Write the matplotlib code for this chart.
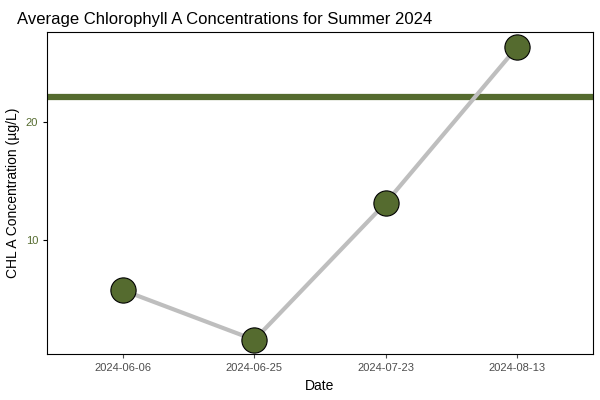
import matplotlib.pyplot as plt

plt.rcParams["font.family"] = ["Liberation Sans", "DejaVu Sans"]

dates = ["2024-06-06", "2024-06-25", "2024-07-23", "2024-08-13"]
chl_a = [5.7, 1.5, 13.1, 26.3]
threshold = 22.1

olive = "#556B2F"

fig = plt.figure(figsize=(6, 4), dpi=100)
ax = fig.add_axes([47 / 600, 46 / 400, 546 / 600, 322 / 400])

x = list(range(len(dates)))
ax.axhline(threshold, color=olive, lw=4.5, zorder=1)
ax.plot(x, chl_a, color="#BEBEBE", lw=3, zorder=2)
ax.scatter(x, chl_a, s=330, color=olive, edgecolor="black", linewidth=0.8, zorder=3)

ax.set_xlim(-0.58, 3.58)
ax.set_ylim(0.3, 27.6)
ax.set_xticks(x)
ax.set_xticklabels(dates)
ax.set_yticks([10, 20])
ax.tick_params(axis="x", labelsize=8, colors="#4D4D4D", length=3)
ax.tick_params(axis="y", labelsize=8, length=3)
for lab in ax.get_yticklabels():
    lab.set_color(olive)
for s in ax.spines.values():
    s.set_linewidth(0.8)

ax.set_xlabel("Date", fontsize=10)
ax.set_ylabel("CHL A Concentration (µg/L)", fontsize=10)
ax.set_title("Average Chlorophyll A Concentrations for Summer 2024",
             fontsize=12, loc="left", x=-0.055)

fig.savefig("out.png")
